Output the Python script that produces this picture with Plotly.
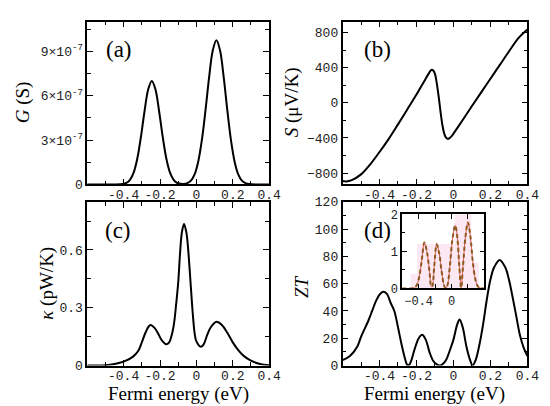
import numpy as np
import plotly.graph_objects as go

# ---------- values ----------
# (a) conductance G, in units of 1e-7 S
G_x = [-0.6, -0.5, -0.445, -0.405, -0.385, -0.365, -0.345, -0.325, -0.305, -0.285,
       -0.265, -0.245, -0.225, -0.205, -0.185, -0.165, -0.145, -0.125, -0.105, -0.085,
       -0.07, -0.05, -0.03, -0.01, 0.01, 0.03, 0.05, 0.07, 0.09, 0.11,
       0.13, 0.15, 0.17, 0.19, 0.21, 0.23, 0.25, 0.27, 0.29, 0.33, 0.4]
G_e7 = [0, 0, 0.0, 0.03, 0.10, 0.31, 0.80, 1.74, 3.21, 4.95,
        6.42, 7.0, 6.42, 4.95, 3.21, 1.74, 0.80, 0.31, 0.10, 0.04,
        0.035, 0.09, 0.26, 0.68, 1.54, 2.99, 5.01, 7.25, 9.06, 9.75,
        9.06, 7.25, 5.01, 2.99, 1.54, 0.68, 0.26, 0.086, 0.025, 0, 0]

# (b) thermopower S, uV/K
S_x = [-0.6, -0.58, -0.55, -0.5, -0.45, -0.4, -0.35, -0.3, -0.25, -0.2,
       -0.16, -0.135, -0.12, -0.11, -0.1, -0.09, -0.08, -0.07, -0.06, -0.05,
       -0.04, -0.03, -0.02, -0.01, 0.0, 0.05, 0.1, 0.15, 0.2, 0.25,
       0.3, 0.35, 0.38, 0.4]
S_val = [-890, -895, -880, -815, -700, -560, -410, -245, -75, 95,
         240, 330, 375, 370, 330, 220, 70, -100, -250, -350,
         -395, -410, -400, -380, -350, -195, -35, 120, 275, 430,
         585, 735, 800, 835]

# (c) thermal conductance kappa, pW/K
K_x = [-0.6, -0.5, -0.45, -0.4, -0.35, -0.32, -0.3, -0.28, -0.26, -0.25,
       -0.23, -0.21, -0.19, -0.166, -0.15, -0.13, -0.12, -0.11, -0.1, -0.09,
       -0.08, -0.068, -0.055, -0.045, -0.035, -0.02, -0.01, 0.0, 0.025, 0.04,
       0.06, 0.08, 0.111, 0.14, 0.17, 0.2, 0.23, 0.26, 0.3, 0.35, 0.4]
K_val = [0, 0.002, 0.008, 0.02, 0.045, 0.075, 0.12, 0.17, 0.205, 0.21,
         0.195, 0.165, 0.13, 0.11, 0.12, 0.18, 0.24, 0.33, 0.43, 0.58,
         0.69, 0.735, 0.69, 0.6, 0.47, 0.27, 0.17, 0.125, 0.097, 0.11,
         0.16, 0.2, 0.227, 0.21, 0.17, 0.12, 0.08, 0.05, 0.025, 0.008, 0.002]

# (d) figure of merit ZT
ZT_x = [-0.6, -0.56, -0.52, -0.5, -0.46, -0.44, -0.42, -0.4, -0.38, -0.36,
        -0.34, -0.32, -0.3, -0.28, -0.26, -0.25, -0.24, -0.23, -0.21, -0.19,
        -0.17, -0.15, -0.13, -0.11, -0.09, -0.075, -0.06, -0.04, -0.02, 0.0,
        0.02, 0.033, 0.05, 0.07, 0.09, 0.104, 0.12, 0.14, 0.16, 0.18,
        0.2, 0.22, 0.25, 0.28, 0.3, 0.32, 0.34, 0.36, 0.38, 0.4]
ZT_val = [4, 7, 14, 21, 33, 40, 47, 52, 54, 52.5,
          46, 40, 28, 15, 4, 0.5, 0.5, 3, 12, 19.5,
          22.5, 19, 10, 3.5, 0.8, 0, 0.8, 4, 11, 19,
          30, 33.7, 28, 14, 4, 0, 4, 15, 30, 48,
          63, 72, 77.4, 72, 63, 50, 36, 22, 13, 7]

# inset of (d)
IN_x = [-0.6, -0.5, -0.45, -0.42, -0.39, -0.36, -0.33, -0.3, -0.27, -0.245,
        -0.235, -0.21, -0.18, -0.15, -0.12, -0.09, -0.07, -0.05, -0.02, 0.01,
        0.045, 0.07, 0.095, 0.117, 0.14, 0.17, 0.2, 0.23, 0.26, 0.29,
        0.32, 0.35, 0.4]
IN_val = [0, 0, 0.02, 0.1, 0.35, 0.8, 1.24, 1.0, 0.5, 0.05,
          0.05, 0.6, 1.19, 0.95, 0.45, 0.08, 0, 0.08, 0.6, 1.3,
          1.7, 1.4, 0.6, 0.02, 0.6, 1.4, 1.78, 1.4, 0.7, 0.25,
          0.06, 0.01, 0]
# faint pink band behind the inset curve (step edges)
BAND_x = [-0.5, -0.42, 0.04, 0.24, 0.33]
BAND_val = [0.4, 1.2, 2.0, 0.7, 0]

X_TICKS = [-0.4, -0.2, 0, 0.2, 0.4]
X_TEXT = ["-0.4", "-0.2", "0", "0.2", "0.4"]

W, H = 550, 406
def px(x):  return x / W
def py(y):  return 1 - y / H

MONO = "Liberation Mono"
SERIF = "Liberation Serif"

def frame(domain, **kw):
    ax = dict(domain=domain, showline=True, linecolor="black", linewidth=1.5,
              mirror="allticks", ticks="inside", ticklen=6, tickwidth=1.2,
              tickcolor="black", showgrid=False, zeroline=False,
              tickfont=dict(family=MONO, size=13, color="#222"))
    ax.update(kw)
    return ax

def minor(d, ln=4):
    return dict(ticks="inside", ticklen=ln, dtick=d, tick0=0, tickcolor="black",
                tickwidth=1.2, showgrid=False)

fig = go.Figure()
line = dict(color="black", width=2)

fig.add_trace(go.Scatter(x=G_x, y=np.array(G_e7) * 1e-7, mode="lines",
                         line=line, line_shape="spline", xaxis="x", yaxis="y"))
fig.add_trace(go.Scatter(x=S_x, y=S_val, mode="lines",
                         line=line, line_shape="spline", xaxis="x2", yaxis="y2"))
fig.add_trace(go.Scatter(x=K_x, y=K_val, mode="lines",
                         line=line, line_shape="spline", xaxis="x3", yaxis="y3"))
fig.add_trace(go.Scatter(x=ZT_x, y=ZT_val, mode="lines",
                         line=line, line_shape="spline", xaxis="x4", yaxis="y4"))
# inset
fig.add_trace(go.Scatter(x=BAND_x, y=BAND_val, mode="lines", line_shape="hv",
                         line=dict(width=0), fill="tozeroy",
                         fillcolor="rgba(250,210,232,0.5)", xaxis="x5", yaxis="y5"))
fig.add_trace(go.Scatter(x=IN_x, y=IN_val, mode="lines", line_shape="spline",
                         line=dict(color="rgba(215,50,50,0.8)", width=1),
                         xaxis="x5", yaxis="y5"))
fig.add_trace(go.Scatter(x=IN_x, y=IN_val, mode="lines", line_shape="spline",
                         line=dict(color="#8a5a1e", width=2, dash="4px,3px"),
                         xaxis="x5", yaxis="y5"))

xa = dict(range=[-0.6, 0.4], tickvals=X_TICKS, ticktext=X_TEXT, minor=minor(0.1),
          ticklabelstandoff=-3)
LX = [px(81), px(267)]
RX = [px(342), px(531)]
TY = [py(177), py(8)]
BY = [py(365), py(195)]

fig.update_layout(
    width=W, height=H, margin=dict(l=0, r=0, t=0, b=0),
    paper_bgcolor="white", plot_bgcolor="white", showlegend=False,
    xaxis=frame(LX, anchor="y", **xa),
    yaxis=frame(TY, anchor="x", range=[0, 1.1e-6],
                tickvals=[0, 3e-7, 6e-7, 9e-7],
                ticktext=["0", "3×10<sup>-7</sup>", "6×10<sup>-7</sup>", "9×10<sup>-7</sup>"],
                minor=minor(1.5e-7)),
    xaxis2=frame(RX, anchor="y2", **xa),
    yaxis2=frame(TY, anchor="x2", range=[-930, 925],
                 tickvals=[-800, -400, 0, 400, 800], minor=minor(200)),
    xaxis3=frame(LX, anchor="y3", **xa),
    yaxis3=frame(BY, anchor="x3", range=[0, 0.85],
                 tickvals=[0, 0.3, 0.6], ticktext=["0", "0.3", "0.6"], minor=minor(0.15)),
    xaxis4=frame(RX, anchor="y4", **xa),
    yaxis4=frame(BY, anchor="x4", range=[0, 120],
                 tickvals=[0, 20, 40, 60, 80, 100, 120], minor=minor(10)),
    xaxis5=frame([px(403), px(487)], anchor="y5", range=[-0.6, 0.4],
                 tickvals=[-0.4, 0], ticklen=5, minor=minor(0.2, 5),
                 tickfont=dict(family=MONO, size=12, color="#222")),
    yaxis5=frame([py(285), py(208)], anchor="x5", range=[0, 2],
                 tickvals=[0, 1, 2], ticklen=5, minor=minor(0.5, 3),
                 tickfont=dict(family=MONO, size=12, color="#222")),
)

# ---------- texts ----------
for txt, x, y in [("(a)", 113, 37), ("(b)", 378, 37), ("(c)", 112, 225), ("(d)", 378, 225)]:
    fig.add_annotation(text=txt, x=px(x), y=py(y), xref="paper", yref="paper",
                       xanchor="center", yanchor="middle", showarrow=False,
                       font=dict(family=SERIF, size=23, color="black"))

ytitles = [
    ("<i>G</i> (S)", 15, 92), ("<i>S</i> (μV/K)", 290, 92),
    ("<i>κ</i> (pW/K)", 40, 280), ("<i>ZT</i>", 300, 283),
]
for txt, x, y in ytitles:
    fig.add_annotation(text=txt, x=px(x), y=py(y), xref="paper", yref="paper",
                       xanchor="center", yanchor="middle", textangle=-90,
                       showarrow=False, font=dict(family=SERIF, size=19, color="black"))

for xc in (174, 436):
    fig.add_annotation(text="Fermi energy (eV)", x=px(xc), y=py(395), xref="paper",
                       yref="paper", xanchor="center", yanchor="middle",
                       showarrow=False, font=dict(family=SERIF, size=19, color="black"))

fig.write_html("out.html")
